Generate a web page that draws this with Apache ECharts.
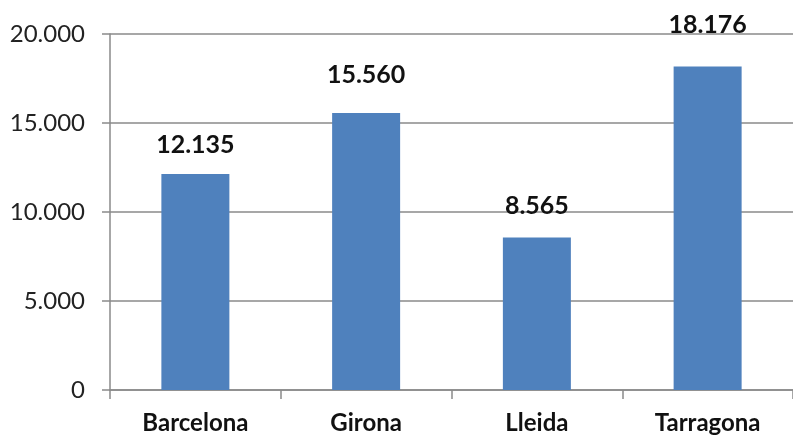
<!DOCTYPE html>
<html><head><meta charset="utf-8">
<script src="https://cdn.jsdelivr.net/npm/echarts@6/dist/echarts.min.js"></script>
<style>html,body{margin:0;padding:0;background:#fff}#c{width:793px;height:437px}</style>
</head><body><div id="c"></div>
<script>
const categories = ['Barcelona', 'Girona', 'Lleida', 'Tarragona'];
const values = [12135, 15560, 8565, 18176];
const yTicks = [0, 5000, 10000, 15000, 20000];

// label spacing above each bar (style only)
const labelGap = [17, 26, 19, 29];

function fmt(v) {
  return String(v).replace(/\B(?=(\d{3})+(?!\d))/g, '.');
}
const chart = echarts.init(document.getElementById('c'));
chart.setOption({
  animation: false,
  grid: { left: 110, right: -3, top: 34, bottom: 47 },
  xAxis: {
    type: 'category',
    data: categories,
    axisLine: { lineStyle: { color: '#8a8a8a', width: 1.5 } },
    axisTick: { show: true, length: 9, lineStyle: { color: '#8a8a8a', width: 1.5 } },
    axisLabel: { color: '#111', fontFamily: 'Lato', fontWeight: 'bold', fontSize: 24, margin: 21 }
  },
  yAxis: {
    type: 'value',
    min: yTicks[0], max: yTicks[yTicks.length - 1], interval: 5000,
    axisLine: { show: true, lineStyle: { color: '#8a8a8a', width: 1.5 } },
    axisTick: { show: true, length: 8, lineStyle: { color: '#8a8a8a', width: 1.5 } },
    splitLine: { lineStyle: { color: '#8a8a8a', width: 1.5 } },
    axisLabel: { color: '#222', fontFamily: 'Lato', fontSize: 24, margin: 25, formatter: v => fmt(v) }
  },
  series: [{
    type: 'bar',
    data: values.map((v, i) => ({ value: v, label: { distance: labelGap[i] } })),
    barWidth: 68,
    itemStyle: { color: '#4F81BD' },
    label: {
      show: true, position: 'top', distance: 17,
      color: '#111', fontFamily: 'Lato', fontWeight: 'bold', fontSize: 25,
      formatter: p => fmt(p.value)
    }
  }]
});
</script></body></html>
